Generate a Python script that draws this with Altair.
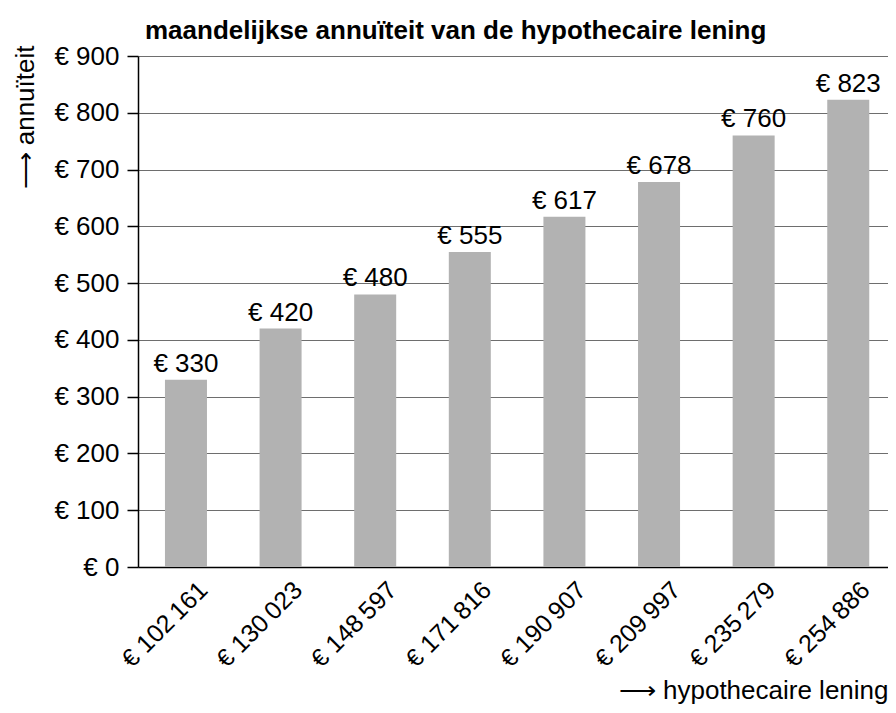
import altair as alt
import pandas as pd

loans = ["€ 102\u2009161", "€ 130\u2009023", "€ 148\u2009597", "€ 171\u2009816",
         "€ 190\u2009907", "€ 209\u2009997", "€ 235\u2009279", "€ 254\u2009886"]
annuity = [330, 420, 480, 555, 617, 678, 760, 823]
y_ticks = [0, 100, 200, 300, 400, 500, 600, 700, 800, 900]

df = pd.DataFrame({"lening": loans, "annuiteit": annuity})
df["label"] = ["€ " + str(v) for v in annuity]

FONT = "Liberation Sans, Arial, Helvetica, sans-serif"

x_enc = alt.X(
    "lening:N",
    sort=loans,
    scale=alt.Scale(paddingInner=0.556, paddingOuter=0.2415, align=0.59),
    axis=alt.Axis(
        title="⟶ hypothecaire lening",
        titleFont=FONT, titleFontSize=26, titleFontWeight="normal", titleColor="black",
        titleX=750, titleY=131, titleAlign="right", titleBaseline="alphabetic", titleAnchor="end",
        labelAngle=-45, labelAlign="right", labelBaseline="top",
        labelOffset=9, labelPadding=10,
        labelFont=FONT, labelFontSize=25, labelColor="black",
        ticks=False, domainColor="black", domainWidth=1.5, grid=False,
    ),
)

y_enc = alt.Y(
    "annuiteit:Q",
    scale=alt.Scale(domain=[0, 900], nice=False),
    axis=alt.Axis(
        values=y_ticks,
        labelExpr="'€ ' + datum.value",
        title="⟶  annuïteit",
        titleFont=FONT, titleFontSize=26, titleFontWeight="normal", titleColor="black",
        titleX=-113, titleY=-11, titleAlign="right", titleBaseline="middle", titleAngle=270,
        labelFont=FONT, labelFontSize=26, labelColor="black", labelPadding=8,
        tickSize=11, tickColor="black", tickWidth=1.5,
        domainColor="black", domainWidth=1.5,
        grid=True, gridColor="#6e6e6e", gridWidth=1,
    ),
)

bars = alt.Chart(df).mark_bar(color="#b2b2b2").encode(x=x_enc, y=y_enc)

labels = alt.Chart(df).mark_text(
    font=FONT, fontSize=26, color="black", baseline="bottom", dy=-3
).encode(x=alt.X("lening:N", sort=loans), y="annuiteit:Q", text="label:N")

chart = (
    alt.layer(bars, labels)
    .properties(
        width=750,
        height=511,
        autosize=alt.AutoSizeParams(type="none"),
        padding={"left": 130, "top": 48, "right": 0, "bottom": 138},
        title=alt.TitleParams(
            "maandelijkse annuïteit van de hypothecaire lening",
            font=FONT, fontSize=26, fontWeight="bold", color="black",
            anchor="start", frame="group", dx=7, dy=27, offset=0, baseline="bottom",
        ),
    )
    .configure_view(stroke=None)
)

chart.save("out.html", embed_options={"renderer": "svg", "actions": False})
